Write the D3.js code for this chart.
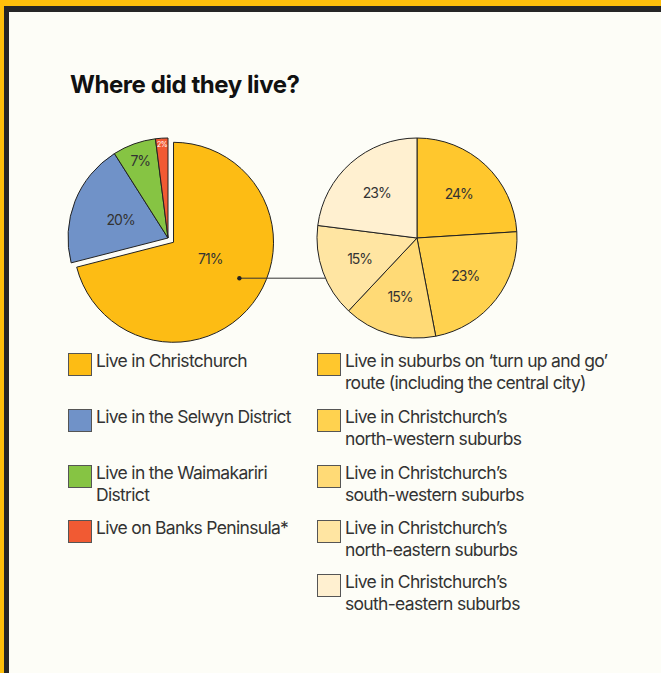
<!DOCTYPE html>
<html>
<head>
<meta charset="utf-8">
<script src="https://cdn.jsdelivr.net/npm/d3@7"></script>
<style>
  html, body { margin: 0; padding: 0; background: #FFC00B; }
  svg { display: block; }
  text { font-family: Inter, "Noto Sans", sans-serif; }
</style>
</head>
<body>
<svg id="chart" width="661" height="673"></svg>
<script>
// ---------- DATA ----------
const title = "Where did they live?";

const mainCategories = ["Live in Christchurch", "Live in the Selwyn District", "Live in the Waimakariri District", "Live on Banks Peninsula*"];
const mainValues = [71, 20, 7, 2];
const mainLabels = ["71%", "20%", "7%", "2%"];
const mainColors = ["#FDBC14", "#7092C8", "#86C443", "#F15A33"];
const mainLegendLines = [["Live in Christchurch"], ["Live in the Selwyn District"], ["Live in the Waimakariri", "District"], ["Live on Banks Peninsula*"]];

const subCategories = ["Suburbs on turn up and go route", "North-western suburbs", "South-western suburbs", "North-eastern suburbs", "South-eastern suburbs"];
const subValues = [24, 23, 15, 15, 23];
const subLabels = ["24%", "23%", "15%", "15%", "23%"];
const subColors = ["#FFC72D", "#FFD24F", "#FFDA76", "#FFE5A2", "#FFF0D0"];
const subLegendLines = [
  ["Live in suburbs on \u2018turn up and go\u2019", "route (including the central city)"],
  ["Live in Christchurch\u2019s", "north-western suburbs"],
  ["Live in Christchurch\u2019s", "south-western suburbs"],
  ["Live in Christchurch\u2019s", "north-eastern suburbs"],
  ["Live in Christchurch\u2019s", "south-eastern suburbs"]
];

// ---------- DRAW ----------
const svg = d3.select("#chart");
const W = 661, H = 673;

// frame
svg.append("rect").attr("x", 0).attr("y", 0).attr("width", W).attr("height", H).attr("fill", "#FFC00B");
svg.append("rect").attr("x", 4).attr("y", 6).attr("width", W).attr("height", H).attr("fill", "#262626");
svg.append("rect").attr("x", 9).attr("y", 12).attr("width", W).attr("height", H).attr("fill", "#FDFDF7");

// helper: fit text to a target width via letter-spacing
function fitSpacing(sel, targetWidth) {
  const node = sel.node();
  const n = sel.text().length;
  const w = node.getComputedTextLength();
  sel.attr("letter-spacing", ((targetWidth - w) / (n - 1)).toFixed(3));
}

// title
const t = svg.append("text").attr("x", 70).attr("y", 93)
  .attr("font-size", 24).attr("font-weight", 700).attr("fill", "#111").text(title);
fitSpacing(t, 230);

const pie = d3.pie().sort(null).value(d => d);

// ---------- main pie ----------
const R = 100;
const mainCenter = [168, 238];
const mainArcs = pie(mainValues);
const arcGen = d3.arc().innerRadius(0).outerRadius(R);
const explode = 7;

const gMain = svg.append("g").attr("transform", `translate(${mainCenter[0]},${mainCenter[1]})`);
mainArcs.forEach((a, i) => {
  const mid = (a.startAngle + a.endAngle) / 2;
  const off = i === 0 ? explode : 0;
  const dx = Math.sin(mid) * off, dy = -Math.cos(mid) * off;
  gMain.append("path")
    .attr("d", arcGen(a))
    .attr("transform", `translate(${dx},${dy})`)
    .attr("fill", mainColors[i])
    .attr("stroke", "#222").attr("stroke-width", 1).attr("stroke-linejoin", "round");
});

// label radii / angle tweaks (layout)
const mainLabelR = [40, 51, 82, 94];
const mainLabelAngleShift = [-14.5, 0, 0, 0];
const mainLabelSize = [14, 14, 14, 7];
mainArcs.forEach((a, i) => {
  const mid = (a.startAngle + a.endAngle) / 2 + mainLabelAngleShift[i] * Math.PI / 180;
  const off = i === 0 ? explode : 0;
  const base = (a.startAngle + a.endAngle) / 2;
  const ox = Math.sin(base) * off, oy = -Math.cos(base) * off;
  gMain.append("text")
    .attr("x", ox + Math.sin(mid) * mainLabelR[i])
    .attr("y", oy - Math.cos(mid) * mainLabelR[i])
    .attr("text-anchor", "middle").attr("dominant-baseline", "central")
    .attr("font-size", mainLabelSize[i])
    .attr("letter-spacing", i === 3 ? -0.4 : -1)
    .attr("fill", i === 3 ? "#fff" : "#333")
    .text(mainLabels[i]);
});

// connector dot + line
const a0 = mainArcs[0];
const base0 = (a0.startAngle + a0.endAngle) / 2;
const dotAng = base0 - 9.2 * Math.PI / 180;
const dotX = mainCenter[0] + Math.sin(base0) * explode + Math.sin(dotAng) * 75;
const dotY = mainCenter[1] - Math.cos(base0) * explode - Math.cos(dotAng) * 75;

// ---------- sub pie ----------
const subCenter = [417, 238];
const subArcs = pie(subValues);
const lineEndX = subCenter[0] - Math.sqrt(R * R - Math.pow(dotY - subCenter[1], 2));
svg.append("line")
  .attr("x1", dotX).attr("y1", dotY).attr("x2", lineEndX).attr("y2", dotY)
  .attr("stroke", "#333").attr("stroke-width", 1);
svg.append("circle").attr("cx", dotX).attr("cy", dotY).attr("r", 2.2).attr("fill", "#222");

const gSub = svg.append("g").attr("transform", `translate(${subCenter[0]},${subCenter[1]})`);
subArcs.forEach((a, i) => {
  gSub.append("path").attr("d", arcGen(a))
    .attr("fill", subColors[i])
    .attr("stroke", "#222").attr("stroke-width", 1).attr("stroke-linejoin", "round");
});
const subLabelR = 61;
subArcs.forEach((a, i) => {
  const mid = (a.startAngle + a.endAngle) / 2;
  gSub.append("text")
    .attr("x", Math.sin(mid) * subLabelR)
    .attr("y", -Math.cos(mid) * subLabelR)
    .attr("text-anchor", "middle").attr("dominant-baseline", "central")
    .attr("font-size", 14).attr("letter-spacing", -1)
    .attr("fill", "#333").text(subLabels[i]);
});

// ---------- legends ----------
const legendFont = 17.5;
const legendLS = -0.68;
const lineGap = 21.5;
function legend(x, tops, colors, lines) {
  lines.forEach((ls, i) => {
    const y = tops[i];
    svg.append("rect").attr("x", x + 0.5).attr("y", y + 0.5).attr("width", 23).attr("height", 22)
      .attr("fill", colors[i]).attr("stroke", "#555").attr("stroke-width", 1);
    ls.forEach((txt, j) => {
      svg.append("text").attr("x", x + 28).attr("y", y + 14 + j * lineGap)
        .attr("font-size", legendFont).attr("letter-spacing", legendLS)
        .attr("fill", "#333").text(txt);
    });
  });
}
const rowTops = [353, 409, 465, 520, 574];
legend(68, rowTops, mainColors, mainLegendLines);
legend(317, rowTops, subColors, subLegendLines);
</script>
</body>
</html>
